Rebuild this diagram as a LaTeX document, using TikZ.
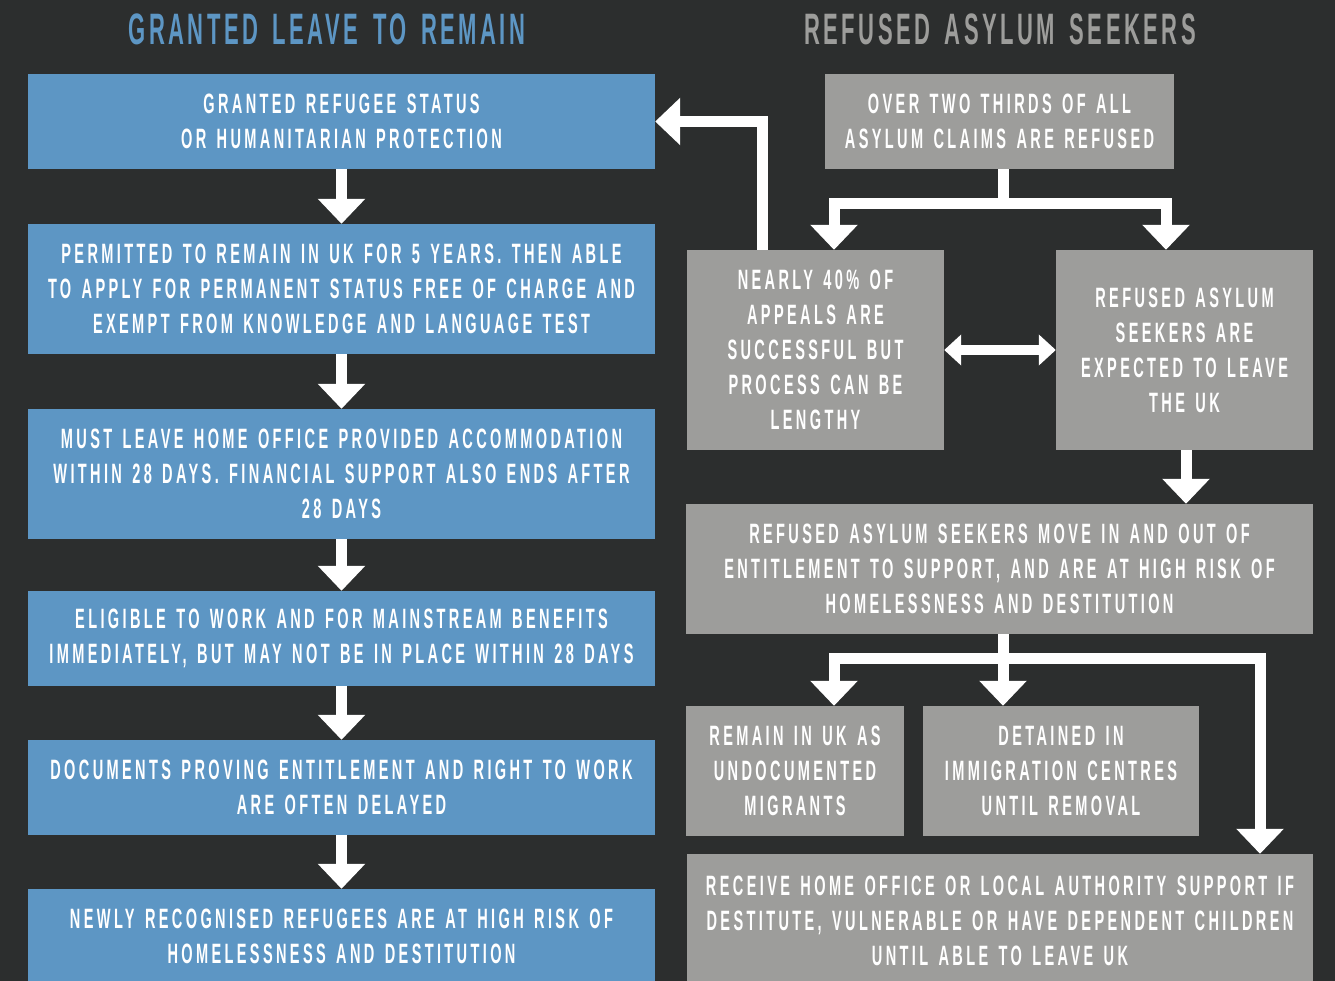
\documentclass[tikz,border=0pt]{standalone}
\usepackage{fontspec}
\usetikzlibrary{arrows.meta}
\newfontfamily\boxfont[FakeStretch=0.52,LetterSpace=12,WordSpace=1.4]{Liberation Sans}
\newfontfamily\titlefont[FakeStretch=0.5,LetterSpace=8,WordSpace=1.5]{Liberation Sans}
\definecolor{bgc}{HTML}{2C2E2E}
\definecolor{bluec}{HTML}{5D96C4}
\definecolor{grayc}{HTML}{9D9D9B}
\tikzset{
  box/.style={inner sep=0pt, align=center, text=white,
    font=\boxfont\bfseries\fontsize{28}{35}\selectfont},
  bluebox/.style={box, fill=bluec},
  graybox/.style={box, fill=grayc},
  ttl/.style={font=\titlefont\bfseries\fontsize{44}{50}\selectfont},
  conn/.style={draw=white, line width=11pt, line join=miter},
  arr/.style={conn, -{Triangle[width=46pt,length=25pt]}},
  darr/.style={draw=white, line width=10pt,
    {Triangle[width=30pt,length=17pt]}-{Triangle[width=30pt,length=17pt]}},
}
\begin{document}
\begin{tikzpicture}[x=1pt,y=-1pt]
\fill[bgc] (0,0) rectangle (1335,981);
\useasboundingbox (0,0) rectangle (1335,981);

\node[ttl, text=bluec] (tl) at (327,29) {GRANTED LEAVE TO REMAIN};
\node[ttl, text=grayc] (tr) at (1000,29) {REFUSED ASYLUM SEEKERS};

% left column
\node[bluebox, minimum width=627pt, minimum height=95pt] (b1) at (341.5,121.5)
  {GRANTED REFUGEE STATUS\\OR HUMANITARIAN PROTECTION};
\node[bluebox, minimum width=627pt, minimum height=130pt] (b2) at (341.5,289)
  {PERMITTED TO REMAIN IN UK FOR 5 YEARS. THEN ABLE\\TO APPLY FOR PERMANENT STATUS FREE OF CHARGE AND\\EXEMPT FROM KNOWLEDGE AND LANGUAGE TEST};
\node[bluebox, minimum width=627pt, minimum height=130pt] (b3) at (341.5,474)
  {MUST LEAVE HOME OFFICE PROVIDED ACCOMMODATION\\WITHIN 28 DAYS. FINANCIAL SUPPORT ALSO ENDS AFTER\\28 DAYS};
\node[bluebox, minimum width=627pt, minimum height=95pt] (b4) at (341.5,638.5)
  {ELIGIBLE TO WORK AND FOR MAINSTREAM BENEFITS\\IMMEDIATELY, BUT MAY NOT BE IN PLACE WITHIN 28 DAYS};
\node[bluebox, minimum width=627pt, minimum height=95pt] (b5) at (341.5,787.5)
  {DOCUMENTS PROVING ENTITLEMENT AND RIGHT TO WORK\\ARE OFTEN DELAYED};
\node[bluebox, minimum width=627pt, minimum height=95pt] (b6) at (341.5,936.5)
  {NEWLY RECOGNISED REFUGEES ARE AT HIGH RISK OF\\HOMELESSNESS AND DESTITUTION};

% right column
\node[graybox, minimum width=349pt, minimum height=95pt] (t) at (999.5,121.5)
  {OVER TWO THIRDS OF ALL\\ASYLUM CLAIMS ARE REFUSED};
\node[graybox, minimum width=257pt, minimum height=200pt] (n) at (815.5,350)
  {NEARLY 40\% OF\\APPEALS ARE\\SUCCESSFUL BUT\\PROCESS CAN BE\\LENGTHY};
\node[graybox, minimum width=257pt, minimum height=200pt] (r) at (1184.5,350)
  {REFUSED ASYLUM\\SEEKERS ARE\\EXPECTED TO LEAVE\\THE UK};
\node[graybox, minimum width=627pt, minimum height=130pt] (big) at (999.5,569)
  {REFUSED ASYLUM SEEKERS MOVE IN AND OUT OF\\ENTITLEMENT TO SUPPORT, AND ARE AT HIGH RISK OF\\HOMELESSNESS AND DESTITUTION};
\node[graybox, minimum width=218pt, minimum height=130pt] (rem) at (795,771)
  {REMAIN IN UK AS\\UNDOCUMENTED\\MIGRANTS};
\node[graybox, minimum width=276pt, minimum height=130pt] (det) at (1061,771)
  {DETAINED IN\\IMMIGRATION CENTRES\\UNTIL REMOVAL};
\node[graybox, minimum width=626pt, minimum height=134pt] (rec) at (1000,921)
  {RECEIVE HOME OFFICE OR LOCAL AUTHORITY SUPPORT IF\\DESTITUTE, VULNERABLE OR HAVE DEPENDENT CHILDREN\\UNTIL ABLE TO LEAVE UK};

% left arrows
\draw[arr] (b1.south) -- (b2.north);
\draw[arr] (b2.south) -- (b3.north);
\draw[arr] (b3.south) -- (b4.north);
\draw[arr] (b4.south) -- (b5.north);
\draw[arr] (b5.south) -- (b6.north);

% right arrows
\coordinate (j1) at (1003,204);
\draw[conn] (t.south -| j1) -- (j1);
\draw[arr] (j1) -| ([xshift=18.5pt]n.north);
\draw[arr] (j1) -| ([xshift=-18.5pt]r.north);
\draw[arr] ([xshift=-53.5pt]n.north) |- (b1.east);
\draw[darr] (n.east) -- (r.west);
\draw[arr] ([xshift=1.5pt]r.south) -- ([xshift=1.5pt]r.south |- big.north);
\coordinate (j2) at (1003,658);
\draw[conn] (big.south -| j2) -- (j2);
\draw[arr] (j2) -| ([xshift=39pt]rem.north);
\draw[arr] (j2) -- (j2 |- det.north);
\draw[arr] (j2) -| ([xshift=260pt]rec.north);
\end{tikzpicture}
\end{document}
